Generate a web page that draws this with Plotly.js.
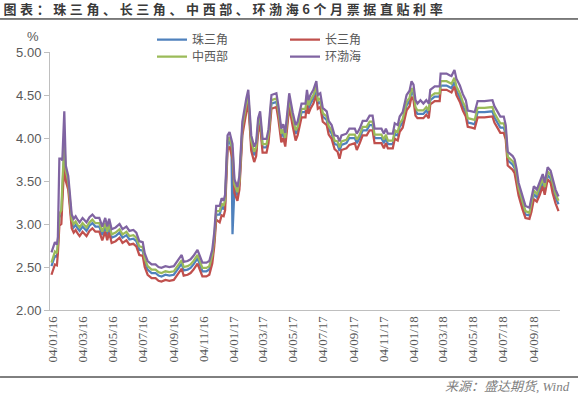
<!DOCTYPE html>
<html><head><meta charset="utf-8">
<script src="https://cdn.plot.ly/plotly-3.0.1.min.js"></script>
<style>html,body{margin:0;padding:0;background:#fff;} #chart{width:578px;height:397px;}</style>
</head><body><div id="chart"></div>
<script>
const dates = [
'2016-01-01','2016-01-05','2016-01-08','2016-01-12','2016-01-14','2016-01-17','2016-01-21','2016-01-23','2016-01-27','2016-01-30',
'2016-02-04','2016-02-07','2016-02-11','2016-02-15','2016-02-19','2016-02-23','2016-02-27','2016-03-04','2016-03-12','2016-03-18',
'2016-03-24','2016-03-30','2016-04-07','2016-04-13','2016-04-19','2016-04-23','2016-04-27','2016-05-02','2016-05-10','2016-05-18',
'2016-05-24','2016-06-01','2016-06-07','2016-06-15','2016-06-21','2016-06-27','2016-07-04','2016-07-08','2016-07-14','2016-07-22',
'2016-07-30','2016-08-05','2016-08-11','2016-08-19','2016-08-27','2016-09-05','2016-09-11','2016-09-17','2016-09-21','2016-09-25',
'2016-10-03','2016-10-09','2016-10-15','2016-10-23','2016-10-27','2016-11-02','2016-11-10','2016-11-16','2016-11-22','2016-11-26',
'2016-11-30','2016-12-07','2016-12-11','2016-12-15','2016-12-18','2016-12-23','2016-12-27','2016-12-31','2017-01-02','2017-01-06',
'2017-01-12','2017-01-16','2017-01-22','2017-01-30','2017-02-03','2017-02-07','2017-02-09','2017-02-15','2017-02-19','2017-02-23',
'2017-02-27','2017-03-04','2017-03-12','2017-03-16','2017-03-22','2017-04-01','2017-04-05','2017-04-11','2017-04-15','2017-04-19',
'2017-04-27','2017-05-04','2017-05-10','2017-05-14','2017-05-22','2017-05-30','2017-06-02','2017-06-05','2017-06-09','2017-06-15',
'2017-06-21','2017-06-24','2017-06-29','2017-07-04','2017-07-12','2017-07-16','2017-07-22','2017-07-28','2017-08-03','2017-08-07',
'2017-08-11','2017-08-21','2017-08-27','2017-09-07','2017-09-11','2017-09-17','2017-09-23','2017-10-01','2017-10-07','2017-10-13',
'2017-10-17','2017-10-31','2017-11-05','2017-11-09','2017-11-13','2017-11-23','2017-11-27','2017-12-03','2017-12-07','2017-12-13',
'2017-12-17','2017-12-21','2017-12-27','2017-12-31','2018-01-04','2018-01-08','2018-01-12','2018-01-18','2018-01-24','2018-01-30',
'2018-02-04','2018-02-07','2018-02-16','2018-02-26','2018-02-28','2018-03-12','2018-03-18','2018-03-22','2018-03-28','2018-04-01',
'2018-04-08','2018-04-14','2018-04-20','2018-04-24','2018-05-02','2018-05-08','2018-05-14','2018-05-28','2018-06-13','2018-06-17',
'2018-06-23','2018-06-29','2018-07-06','2018-07-10','2018-07-14','2018-07-24','2018-07-28','2018-08-01','2018-08-05','2018-08-13',
'2018-08-19','2018-08-27','2018-08-31','2018-09-05','2018-09-11','2018-09-17','2018-09-23','2018-09-27','2018-10-03','2018-10-09',
'2018-10-13','2018-10-19','2018-10-25'
];

// 珠三角 (blue)
const zhusanjiao = [
2.51,2.58,2.63,2.62,2.74,3.08,3.10,3.38,3.85,3.58,
3.46,3.27,3.01,2.96,2.99,2.95,2.92,2.97,2.92,2.98,
3.01,2.97,2.97,2.87,2.97,2.87,2.96,2.84,2.86,2.90,
2.84,2.87,2.82,2.83,2.80,2.70,2.69,2.56,2.47,2.43,
2.43,2.40,2.39,2.41,2.40,2.41,2.46,2.52,2.54,2.46,
2.47,2.49,2.53,2.60,2.53,2.45,2.45,2.47,2.60,2.80,
3.11,3.11,3.20,3.17,3.24,3.93,3.97,3.87,2.88,3.42,
3.33,3.46,4.09,4.36,4.46,4.11,3.93,3.80,3.85,4.13,
4.21,3.89,3.89,4.00,4.40,4.42,4.28,4.01,4.06,3.96,
4.42,4.20,4.05,4.09,4.30,4.30,4.46,4.34,4.40,4.46,
4.56,4.40,4.42,4.25,4.21,4.10,4.05,3.93,3.92,3.85,
3.92,3.94,4.00,4.00,3.94,4.00,4.09,4.09,4.15,4.15,
4.00,4.00,3.94,4.00,3.93,3.93,4.05,4.03,4.13,4.18,
4.30,4.38,4.43,4.54,4.50,4.32,4.28,4.28,4.28,4.32,
4.28,4.44,4.48,4.48,4.61,4.61,4.59,4.58,4.65,4.55,
4.47,4.37,4.30,4.18,4.17,4.16,4.30,4.30,4.31,4.24,
4.18,4.12,4.12,4.04,3.74,3.69,3.65,3.54,3.38,3.22,
3.11,3.10,3.19,3.35,3.31,3.39,3.49,3.39,3.57,3.53,
3.43,3.31,3.23
];

// 长三角 (red)
const changsanjiao = [
2.41,2.47,2.53,2.52,2.66,2.98,3.00,3.25,3.72,3.50,
3.40,3.21,2.95,2.90,2.93,2.89,2.86,2.91,2.86,2.92,
2.95,2.91,2.91,2.81,2.91,2.81,2.90,2.78,2.80,2.84,
2.78,2.81,2.76,2.77,2.74,2.64,2.63,2.50,2.41,2.37,
2.37,2.34,2.33,2.35,2.34,2.35,2.40,2.46,2.48,2.40,
2.41,2.43,2.47,2.54,2.47,2.39,2.39,2.41,2.54,2.74,
3.05,3.02,3.10,3.09,3.16,3.86,3.90,3.80,3.76,3.36,
3.27,3.40,4.03,4.30,4.40,4.05,3.85,3.72,3.79,4.07,
4.15,3.83,3.83,3.94,4.34,4.36,4.22,3.95,4.00,3.90,
4.36,4.14,3.97,4.03,4.24,4.24,4.40,4.28,4.34,4.40,
4.50,4.34,4.36,4.19,4.15,4.04,3.99,3.87,3.84,3.76,
3.86,3.88,3.92,3.94,3.86,3.94,4.03,4.03,4.09,4.09,
3.94,3.94,3.88,3.94,3.88,3.88,3.99,3.97,4.07,4.12,
4.24,4.32,4.37,4.48,4.44,4.26,4.23,4.23,4.23,4.27,
4.23,4.39,4.43,4.43,4.56,4.56,4.54,4.53,4.60,4.50,
4.42,4.32,4.25,4.13,4.12,4.11,4.24,4.24,4.25,4.18,
4.12,4.06,4.06,3.98,3.68,3.63,3.59,3.48,3.33,3.17,
3.07,3.06,3.14,3.29,3.26,3.34,3.44,3.34,3.52,3.48,
3.36,3.24,3.15
];

// 中西部 (green)
const zhongxibu = [
2.55,2.62,2.68,2.66,2.78,3.12,3.16,3.45,3.95,3.62,
3.50,3.31,3.05,3.00,3.03,2.99,2.96,3.01,2.96,3.02,
3.05,3.01,3.01,2.91,3.01,2.91,3.00,2.88,2.90,2.94,
2.88,2.91,2.86,2.87,2.84,2.74,2.73,2.60,2.51,2.47,
2.47,2.44,2.43,2.45,2.44,2.45,2.50,2.56,2.58,2.50,
2.51,2.53,2.57,2.64,2.57,2.49,2.49,2.51,2.64,2.84,
3.15,3.15,3.24,3.21,3.28,3.97,4.01,3.91,3.87,3.46,
3.37,3.50,4.13,4.40,4.50,4.15,3.97,3.84,3.89,4.17,
4.25,3.93,3.93,4.04,4.44,4.46,4.32,4.05,4.10,4.00,
4.46,4.24,4.09,4.13,4.34,4.34,4.50,4.38,4.44,4.50,
4.60,4.44,4.46,4.29,4.25,4.14,4.09,3.97,3.96,3.89,
3.96,3.98,4.04,4.04,3.98,4.04,4.13,4.13,4.19,4.19,
4.04,4.04,3.98,4.04,3.97,3.97,4.09,4.07,4.17,4.22,
4.34,4.42,4.47,4.58,4.54,4.36,4.32,4.32,4.32,4.36,
4.32,4.48,4.52,4.52,4.66,4.66,4.64,4.63,4.70,4.60,
4.52,4.42,4.35,4.23,4.22,4.21,4.35,4.35,4.36,4.29,
4.23,4.17,4.17,4.08,3.78,3.73,3.69,3.58,3.42,3.26,
3.15,3.13,3.23,3.39,3.35,3.43,3.53,3.43,3.61,3.57,
3.47,3.35,3.27
];

// 环渤海 (purple)
const huanbohai = [
2.67,2.73,2.79,2.76,2.85,3.76,3.76,3.74,4.31,3.68,
3.56,3.37,3.11,3.06,3.09,3.05,3.02,3.07,3.02,3.08,
3.11,3.07,3.07,2.97,3.07,2.97,3.06,2.94,2.96,3.00,
2.94,2.97,2.92,2.93,2.90,2.80,2.79,2.66,2.57,2.53,
2.53,2.50,2.49,2.51,2.50,2.51,2.56,2.62,2.64,2.56,
2.57,2.59,2.63,2.70,2.63,2.55,2.55,2.57,2.70,2.90,
3.21,3.21,3.30,3.27,3.34,4.03,4.07,3.97,3.93,3.52,
3.43,3.56,4.19,4.46,4.56,4.21,4.03,3.90,3.95,4.23,
4.31,3.99,3.99,4.10,4.50,4.52,4.38,4.11,4.16,4.06,
4.52,4.30,4.15,4.19,4.40,4.40,4.56,4.44,4.50,4.56,
4.66,4.50,4.52,4.35,4.31,4.20,4.15,4.03,4.02,3.96,
4.03,4.05,4.11,4.11,4.05,4.11,4.20,4.20,4.26,4.26,
4.11,4.11,4.05,4.11,4.05,4.05,4.17,4.15,4.25,4.30,
4.42,4.50,4.55,4.66,4.62,4.44,4.40,4.44,4.40,4.44,
4.40,4.56,4.60,4.60,4.75,4.75,4.73,4.72,4.79,4.69,
4.61,4.51,4.44,4.32,4.31,4.30,4.43,4.43,4.44,4.37,
4.31,4.25,4.25,4.15,3.84,3.79,3.75,3.64,3.48,3.32,
3.21,3.19,3.29,3.44,3.40,3.48,3.58,3.48,3.66,3.62,
3.52,3.40,3.32
];

const seriesNames = ['珠三角', '长三角', '中西部', '环渤海'];
const tickDates = ['2016-01-04','2016-03-04','2016-05-04','2016-07-04','2016-09-04','2016-11-04',
  '2017-01-04','2017-03-04','2017-05-04','2017-07-04','2017-09-04','2017-11-04',
  '2018-01-04','2018-03-04','2018-05-04','2018-07-04','2018-09-04'];
const tickLabels = ['04/01/16','04/03/16','04/05/16','04/07/16','04/09/16','04/11/16',
  '04/01/17','04/03/17','04/05/17','04/07/17','04/09/17','04/11/17',
  '04/01/18','04/03/18','04/05/18','04/07/18','04/09/18'];
const yTicks = [2.0, 2.5, 3.0, 3.5, 4.0, 4.5, 5.0];

const colors = ['#4F81BD', '#C0504D', '#9BBB59', '#8064A2'];
const values = [zhusanjiao, changsanjiao, zhongxibu, huanbohai];
const legends = ['legend', 'legend', 'legend2', 'legend2'];

const traces = values.map((v, i) => ({
  type: 'scatter', mode: 'lines', x: dates, y: v, name: seriesNames[i],
  line: {color: colors[i], width: 2.25}, legend: legends[i], hoverinfo: 'skip'
}));

const legendFont = {family: 'Noto Sans CJK SC, sans-serif', size: 12, color: '#595959'};
const layout = {
  width: 578, height: 397,
  margin: {l: 50, r: 18, t: 52, b: 87},
  paper_bgcolor: '#ffffff', plot_bgcolor: '#ffffff',
  title: {
    text: '图表：珠三角、长三角、中西部、环渤海6个月票据直贴利率',
    x: 0.006, xanchor: 'left', xref: 'container',
    y: 0.975, yanchor: 'middle', yref: 'container',
    font: {family: 'Noto Sans CJK SC, sans-serif', size: 13, weight: 'bold', color: '#3a3a3a'}
  },
  showlegend: true,
  legend: {orientation: 'h', x: 0.2, xanchor: 'left', y: 1.104, yanchor: 'top',
    entrywidth: 88, entrywidthmode: 'pixels', font: legendFont, bgcolor: 'rgba(0,0,0,0)'},
  legend2: {orientation: 'h', x: 0.2, xanchor: 'left', y: 1.038, yanchor: 'top',
    entrywidth: 88, entrywidthmode: 'pixels', font: legendFont, bgcolor: 'rgba(0,0,0,0)'},
  xaxis: {
    type: 'date', range: ['2015-12-29', '2018-10-28'],
    tickmode: 'array', tickvals: tickDates, ticktext: tickLabels, tickangle: -90,
    showline: true, linecolor: '#BFBFBF', linewidth: 1, ticks: '',
    showgrid: false, zeroline: false,
    tickfont: {family: 'Liberation Serif, serif', size: 13, color: '#595959'}
  },
  yaxis: {
    range: [2, 5], tickmode: 'array', tickvals: yTicks, tickformat: '.2f',
    ticks: 'outside', ticklen: 5, tickcolor: '#BFBFBF', tickwidth: 1,
    showline: true, linecolor: '#BFBFBF', linewidth: 1,
    showgrid: false, zeroline: false,
    tickfont: {family: 'Liberation Sans, Arial, sans-serif', size: 13, color: '#595959'}
  },
  annotations: [
    {text: '%', xref: 'paper', yref: 'paper', x: -0.033, y: 1.062, xanchor: 'center', yanchor: 'middle',
     showarrow: false, font: {family: 'Liberation Sans, Arial, sans-serif', size: 13, color: '#595959'}},
    {text: '来源：盛达期货, Wind', xref: 'paper', yref: 'paper', x: 1.024, y: -0.298,
     xanchor: 'right', yanchor: 'middle', showarrow: false,
     font: {family: 'Liberation Serif, Noto Sans CJK SC, serif', size: 13, style: 'italic', color: '#7F7F7F'}}
  ],
  shapes: [
    {type: 'line', xref: 'paper', yref: 'paper', x0: -0.098, x1: 1.0353, y0: 1.128, y1: 1.128,
     line: {color: '#000000', width: 1}},
    {type: 'line', xref: 'paper', yref: 'paper', x0: -0.098, x1: 1.0353, y0: -0.2597, y1: -0.2597,
     line: {color: '#000000', width: 1}}
  ]
};

Plotly.newPlot('chart', traces, layout, {displayModeBar: false, staticPlot: true}).then(() => {
  document.querySelectorAll('.gtitle').forEach(el => { el.style.letterSpacing = '3.6px'; });
});
</script>
</body></html>
